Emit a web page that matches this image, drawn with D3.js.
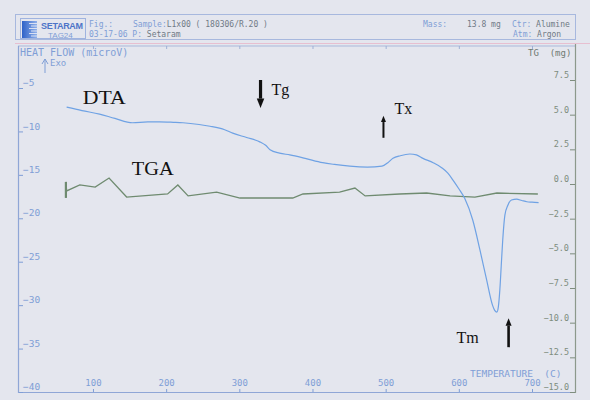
<!DOCTYPE html>
<html>
<head>
<meta charset="utf-8">
<script src="https://cdn.jsdelivr.net/npm/d3@7/dist/d3.min.js"></script>
<style>
  html, body { margin: 0; padding: 0; background: #e4e6ee; }
  svg { display: block; }
  .mono { font-family: "DejaVu Sans Mono", "Liberation Mono", monospace; }
  .serif { font-family: "Liberation Serif", "Times New Roman", serif; }
</style>
</head>
<body>
<script>
// DTA heat flow (microV) against temperature (C)
const dtaTemp = [64, 85, 109, 130, 154, 175, 191, 210, 223, 245, 260, 280, 291, 310, 328, 336, 342, 355, 369, 390, 414, 430, 451, 475, 495, 503, 510, 520, 533, 542, 551, 565, 577, 585, 592, 600, 608, 619, 629, 638, 646, 649, 652, 654, 656, 658, 660, 663, 667, 672, 679, 686, 693, 700, 709];
const dtaHeat = [-7.2, -7.6, -8.0, -8.5, -9.0, -8.9, -8.9, -8.95, -9.0, -9.2, -9.4, -9.8, -10.2, -10.7, -11.2, -11.6, -12.1, -12.5, -12.7, -13.1, -13.6, -13.8, -14.0, -14.1, -14.0, -13.6, -13.1, -12.8, -12.6, -12.7, -13.1, -13.6, -14.2, -14.8, -15.6, -16.6, -17.7, -20.2, -23.7, -27.1, -30.0, -30.6, -30.8, -30.2, -28.3, -25.4, -22.5, -19.6, -18.5, -17.9, -17.8, -17.95, -18.1, -18.15, -18.2];

// TGA mass change (mg) against temperature (C)
const tgaTemp = [63, 63, 64, 82, 103, 122, 146, 202, 216, 230, 269, 301, 373, 387, 437, 458, 472, 519, 556, 588, 622, 652, 708];
const tgaMass = [-1.0, 0.15, -0.5, -0.07, -0.22, 0.43, -0.94, -0.72, -0.07, -0.86, -0.58, -1.01, -1.01, -0.72, -0.58, -0.29, -0.86, -0.72, -0.65, -0.86, -0.94, -0.65, -0.72];

// axis ticks
const tempTicks = [100, 200, 300, 400, 500, 600, 700];
const heatTicks = [-5, -10, -15, -20, -25, -30, -35, -40];
const massTicks = [7.5, 5.0, 2.5, 0.0, -2.5, -5.0, -7.5, -10.0, -12.5, -15.0];

// curve labels and characteristic temperatures (Tg, Tx, Tm)
const curveLabels = [
  { text: "DTA", temp: 86, heat: -6.8, len: 43 },
  { text: "TGA", temp: 153, heat: -15.0, len: 42 }
];
const markers = [
  { text: "Tg", temp: 329, tip: -7.3, dir: "down", len: 28, shaft: 3.2, head: 7.5 },
  { text: "Tx", temp: 497, tip: -8.2, dir: "up", len: 22, shaft: 2, head: 5 },
  { text: "Tm", temp: 668, tip: -31.5, dir: "up", len: 29, shaft: 2.6, head: 6 }
];

const W = 590, H = 400;
const blue = "#7f9ed6", green = "#7e8d7e";

const svg = d3.select("body").append("svg").attr("width", W).attr("height", H);
svg.append("rect").attr("width", W).attr("height", H).attr("fill", "#e4e6ee");

const x = d3.scaleLinear().domain([0, 700]).range([19.8, 532]);
const yL = d3.scaleLinear().domain([-40, -5]).range([392, 88]);
const yR = d3.scaleLinear().domain([-15, 7.5]).range([392, 80]);

const frameL = 18, frameR = 575, frameT = 46, frameB = 392;

// ---- instrument header ----
const hdr = svg.append("g");
hdr.append("rect").attr("x", 15.5).attr("y", 14.5).attr("width", 560).attr("height", 25)
  .attr("fill", "none").attr("stroke", "#a7b8de").attr("stroke-width", 1);
hdr.append("rect").attr("x", 20.5).attr("y", 18.5).attr("width", 65).attr("height", 20)
  .attr("fill", "none").attr("stroke", "#9fb3df").attr("stroke-width", 1);
const grad = svg.append("defs").append("linearGradient").attr("id", "logo");
grad.append("stop").attr("offset", "0%").attr("stop-color", "#2f62c8");
grad.append("stop").attr("offset", "100%").attr("stop-color", "#8fb0ea");
hdr.append("rect").attr("x", 22).attr("y", 21).attr("width", 15).attr("height", 17).attr("fill", "url(#logo)");
d3.range(6).forEach(i => {
  hdr.append("line").attr("x1", 29 + (i % 2) * 2).attr("x2", 37)
    .attr("y1", 23.5 + i * 2.5).attr("y2", 23.5 + i * 2.5)
    .attr("stroke", "#e4e8f4").attr("stroke-width", 0.9);
});
hdr.append("text").attr("x", 41).attr("y", 28.5).attr("fill", "#4d74c8")
  .attr("font-family", "Liberation Sans, Arial, sans-serif").attr("font-weight", "bold")
  .attr("font-size", 9).attr("textLength", 42).text("SETARAM");
hdr.append("text").attr("x", 48).attr("y", 37.5).attr("fill", blue)
  .attr("font-family", "Liberation Sans, Arial, sans-serif")
  .attr("font-size", 8).text("TAG24");

function htext(xp, yp, parts, size) {
  const t = hdr.append("text").attr("class", "mono").attr("x", xp).attr("y", yp)
    .attr("font-size", size || 8);
  parts.forEach(p => t.append("tspan").attr("fill", p[1]).text(p[0]));
  return t;
}
htext(89, 27, [["Fig.:", blue]]);
htext(133, 27, [["Sample:", blue], ["L1x00 ( 180306/R.20 )", "#707a86"]]);
htext(89, 36.5, [["03-17-06 ", blue], ["P:", blue], [" Setaram", "#6f7a84"]]);
htext(423, 27, [["Mass:", blue]]);
htext(467, 27, [["13.8 mg", "#707a86"]]);
htext(512, 27, [["Ctr:", blue], [" Alumine", "#6f7a84"]]);
htext(513, 36.5, [["Atm:", blue], [" Argon", "#6f7a84"]]);

// faint pink guide line under the header
svg.append("line").attr("x1", 15).attr("x2", 590).attr("y1", 43.5).attr("y2", 43.5)
  .attr("stroke", "#e7bfd0").attr("stroke-width", 1);

// ---- frame and axes ----
svg.append("line").attr("x1", frameL).attr("x2", frameR).attr("y1", frameT).attr("y2", frameT)
  .attr("stroke", "#a9b8da").attr("stroke-width", 1);

function styleAxis(g, color) {
  g.select(".domain").remove();
  g.selectAll(".tick line").attr("stroke", color).attr("stroke-width", 1);
  g.selectAll(".tick text").attr("fill", color).attr("class", "mono");
}

// top ticks
const topAxis = svg.append("g").attr("transform", `translate(0,${frameT})`)
  .call(d3.axisTop(x).tickValues(tempTicks).tickSizeInner(-3).tickFormat(""));
styleAxis(topAxis, "#9fb0d6");

// bottom temperature axis
const botAxis = svg.append("g").attr("transform", `translate(0,${frameB})`)
  .call(d3.axisBottom(x).tickValues(tempTicks).tickSizeInner(-3).tickFormat(d3.format("d")));
styleAxis(botAxis, blue);
botAxis.selectAll(".tick text").attr("y", -6).attr("dy", "0").attr("font-size", 9);
svg.append("line").attr("x1", frameL).attr("x2", frameR).attr("y1", frameB + 0.5).attr("y2", frameB + 0.5)
  .attr("stroke", "#8fa6d6").attr("stroke-width", 1.2);

// left heat-flow axis
const leftAxis = svg.append("g").attr("transform", `translate(${frameL},0)`)
  .call(d3.axisLeft(yL).tickValues(heatTicks).tickSizeInner(-5).tickFormat(d3.format("d")));
styleAxis(leftAxis, blue);
leftAxis.selectAll(".tick text").attr("x", 5).attr("dy", "-0.25em")
  .attr("text-anchor", "start").attr("font-size", 9.5);
svg.append("line").attr("x1", frameL + 0.5).attr("x2", frameL + 0.5).attr("y1", frameT).attr("y2", frameB + 1)
  .attr("stroke", "#8fa6d6").attr("stroke-width", 1.2);

// right TG axis
const rightAxis = svg.append("g").attr("transform", `translate(${frameR},0)`)
  .call(d3.axisRight(yR).tickValues(massTicks).tickSizeInner(-5).tickFormat(d3.format(".1f")));
styleAxis(rightAxis, green);
rightAxis.selectAll(".tick text").attr("x", -6).attr("dy", "-0.3em")
  .attr("text-anchor", "end").attr("font-size", 8.5);
svg.append("line").attr("x1", frameR + 0.5).attr("x2", frameR + 0.5).attr("y1", frameT - 2).attr("y2", frameB + 1)
  .attr("stroke", "#8c998c").attr("stroke-width", 1.2);

// axis titles
svg.append("text").attr("class", "mono").attr("x", 20).attr("y", 55.5)
  .attr("font-size", 10).attr("fill", blue).text("HEAT FLOW (microV)");
svg.append("text").attr("class", "mono").attr("x", 50).attr("y", 66)
  .attr("font-size", 9).attr("fill", blue).text("Exo");
svg.append("path").attr("d", "M45,73 V59 M42,64 L45,59 L48,64")
  .attr("fill", "none").attr("stroke", blue).attr("stroke-width", 1);
svg.append("text").attr("class", "mono").attr("x", 528).attr("y", 55.5)
  .attr("font-size", 9).attr("fill", "#6f7a72").attr("xml:space", "preserve").text("TG  (mg)");
svg.append("text").attr("class", "mono").attr("x", 470).attr("y", 376.5)
  .attr("font-size", 9.5).attr("fill", blue).attr("xml:space", "preserve").text("TEMPERATURE  (C)");

// ---- curves ----
const tga = tgaTemp.map((t, i) => [t, tgaMass[i]]);
const dta = dtaTemp.map((t, i) => [t, dtaHeat[i]]);

svg.append("path").datum(tga)
  .attr("d", d3.line().x(d => x(d[0])).y(d => yR(d[1])))
  .attr("fill", "none").attr("stroke", "#6f8b70").attr("stroke-width", 1.3);
svg.append("line").attr("x1", x(tgaTemp[0])).attr("x2", x(tgaTemp[0]))
  .attr("y1", yR(tgaMass[0])).attr("y2", yR(tgaMass[1]))
  .attr("stroke", "#6f8b70").attr("stroke-width", 2.2);

svg.append("path").datum(dta)
  .attr("d", d3.line().curve(d3.curveMonotoneX).x(d => x(d[0])).y(d => yL(d[1])))
  .attr("fill", "none").attr("stroke", "#6fa2e4").attr("stroke-width", 1.2);

// ---- annotations ----
curveLabels.forEach(c => {
  svg.append("text").attr("class", "serif").attr("x", x(c.temp)).attr("y", yL(c.heat))
    .attr("font-size", 19).attr("textLength", c.len).attr("lengthAdjust", "spacingAndGlyphs")
    .attr("fill", "#111").text(c.text);
});

markers.forEach(m => {
  const cx = x(m.temp), tip = yL(m.tip);
  const s = m.dir === "down" ? -1 : 1;   // down arrow: tail above tip
  const base = tip + s * m.head * 1.25;
  const tail = tip + s * m.len;
  svg.append("line").attr("x1", cx).attr("x2", cx).attr("y1", base).attr("y2", tail)
    .attr("stroke", "#111").attr("stroke-width", m.shaft);
  svg.append("path")
    .attr("d", `M${cx - m.head / 2},${base} L${cx},${tip} L${cx + m.head / 2},${base} Z`)
    .attr("fill", "#111");
});
// marker labels
const mLab = { Tg: [11, -0.5], Tx: [11, -2], Tm: [-52, 25] };
markers.forEach(m => {
  const cx = x(m.temp), tip = yL(m.tip);
  const off = mLab[m.text];
  const yb = m.dir === "down" ? tip - 12 : tip;
  svg.append("text").attr("class", "serif").attr("x", cx + off[0]).attr("y", yb + off[1])
    .attr("font-size", 16).attr("fill", "#111").text(m.text);
});
</script>
</body>
</html>
